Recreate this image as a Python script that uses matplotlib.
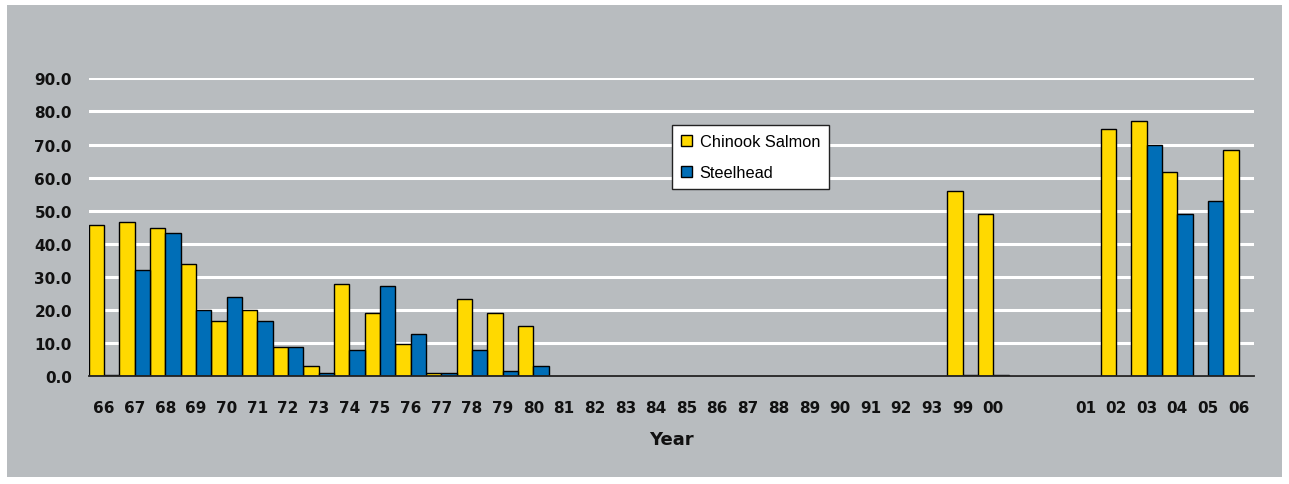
import matplotlib
matplotlib.use('Agg')
import matplotlib.pyplot as plt
import numpy as np
from matplotlib.patches import Rectangle

plt.rcParams['font.family'] = ['Liberation Sans', 'DejaVu Sans']

# Year labels (two unlabeled slots between 00 and 01)
years = ['66', '67', '68', '69', '70', '71', '72', '73', '74', '75', '76', '77',
         '78', '79', '80', '81', '82', '83', '84', '85', '86', '87', '88', '89',
         '90', '91', '92', '93', '99', '00', '', '', '01', '02', '03', '04', '05', '06']

nan = np.nan
chinook = [45.8, 46.7, 44.9, 33.8, 16.8, 20.0, 9.0, 3.1, 28.0, 19.1, 9.8, 0.9,
           23.2, 19.1, 15.1, 0, 0, 0, 0, 0, 0, 0, 0, 0,
           0, 0, 0, 0, 56.1, 48.9, nan, nan, nan, 74.8, 77.0, 61.8, nan, 68.2]
steelhead = [0.3, 32.1, 43.3, 20.0, 24.1, 16.8, 9.0, 0.9, 8.0, 27.2, 12.9, 0.9,
             8.0, 1.7, 3.1, 0, 0, 0, 0, 0, 0, 0, 0, 0,
             0, 0, 0, 0, 0.3, 0.3, nan, nan, nan, nan, 70.0, 48.9, 53.0, nan]

BG = '#b8bcbf'
YELLOW = '#ffd900'
BLUE = '#006eb7'

fig = plt.figure(figsize=(12.89, 4.85), dpi=100, facecolor='white')
fig.patches.append(Rectangle((7 / 1289, 7 / 485), 1275 / 1289, 472 / 485,
                             transform=fig.transFigure, facecolor=BG,
                             edgecolor='none', zorder=-5))

ax = fig.add_axes([88.6 / 1289, 107.7 / 485, (1254 - 88.6) / 1289, (377.3 - 79.3) / 485])
ax.set_facecolor(BG)
ax.set_zorder(2)

x = np.arange(len(years))
ax.bar(x - 0.25, chinook, width=0.5, color=YELLOW, edgecolor='black',
       linewidth=1.0, label='Chinook Salmon', zorder=3)
ax.bar(x + 0.25, steelhead, width=0.5, color=BLUE, edgecolor='black',
       linewidth=1.0, label='Steelhead', zorder=3)

ax.set_xlim(-0.5, len(years) - 0.5)
ax.set_ylim(0, 90)
ax.set_yticks(np.arange(0, 91, 10))
ax.set_yticklabels([f'{v:.1f}' for v in np.arange(0, 91, 10)])
ax.set_xticks(x)
ax.set_xticklabels(years)

for s in ['top', 'right', 'left']:
    ax.spines[s].set_visible(False)
ax.spines['bottom'].set_color('#222222')
ax.spines['bottom'].set_linewidth(1.3)
ax.spines['bottom'].set_zorder(4)

ax.yaxis.grid(True, color='white', linewidth=2.2, zorder=1)
ax.set_axisbelow(True)

ax.tick_params(axis='both', length=0)
ax.tick_params(axis='y', pad=12)
ax.tick_params(axis='x', pad=17)
for lab in ax.get_xticklabels() + ax.get_yticklabels():
    lab.set_family('DejaVu Sans')
    lab.set_fontweight('bold')
    lab.set_fontsize(11)
    lab.set_color('#111111')

ax.set_xlabel('Year', fontsize=13, fontweight='bold', family='DejaVu Sans',
              labelpad=11, color='#111111')

leg = ax.legend(loc='upper left', bbox_to_anchor=((671.7 - 88.6) / (1254 - 88.6),
                                                   (377.3 - 126) / (377.3 - 79.3)),
                frameon=True, fancybox=False, fontsize=11.8, handlelength=0.7,
                handleheight=0.7, handletextpad=0.45, labelspacing=1.0,
                borderpad=0.55, borderaxespad=0)
leg.get_frame().set_edgecolor('#222222')
leg.get_frame().set_linewidth(1.0)
leg.get_frame().set_facecolor('white')
leg.get_frame().set_alpha(1)

fig.savefig('out.png', dpi=100, facecolor='white')
